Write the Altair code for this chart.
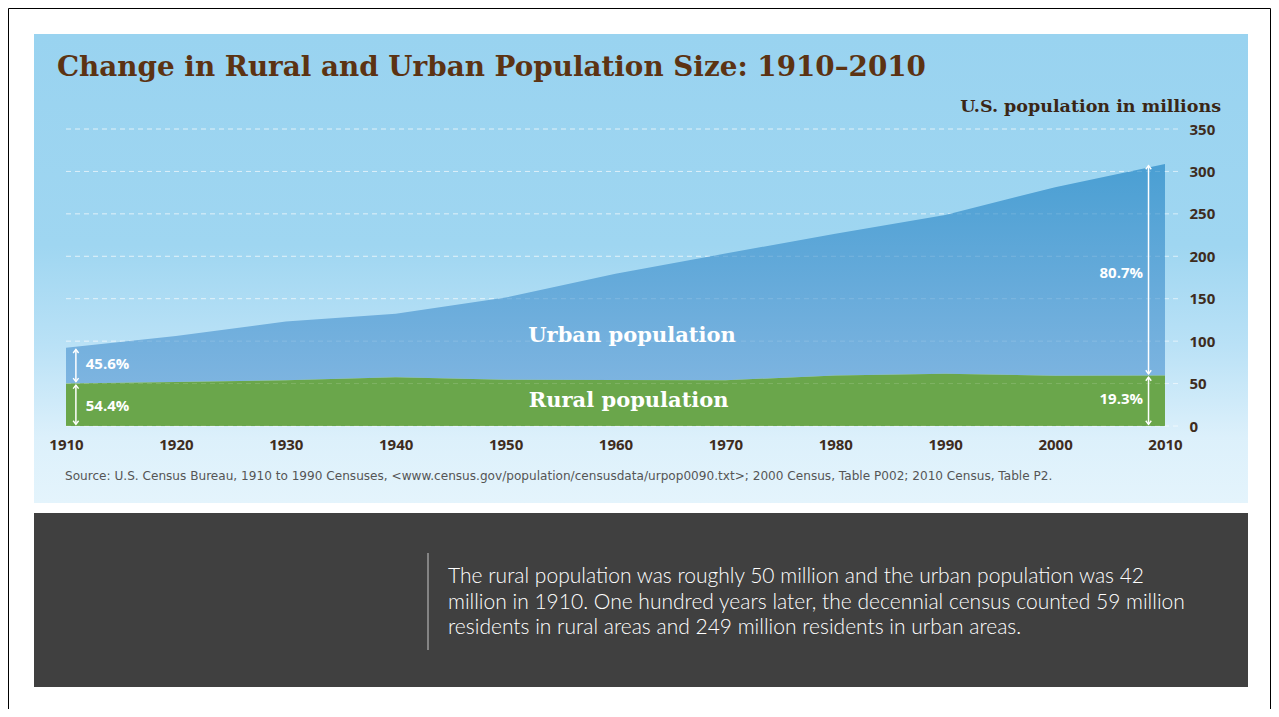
import altair as alt
import pandas as pd

# ---------------- data ----------------
years = [1910, 1920, 1930, 1940, 1950, 1960, 1970, 1980, 1990, 2000, 2010]
rural = [50.2, 51.8, 54.0, 57.5, 54.5, 54.1, 53.9, 59.5, 61.7, 59.1, 59.5]
urban = [42.0, 54.2, 69.2, 74.7, 96.8, 125.3, 149.3, 167.1, 187.1, 222.4, 249.3]

x_ticks = [1910, 1920, 1930, 1940, 1950, 1960, 1970, 1980, 1990, 2000, 2010]
y_ticks = [0, 50, 100, 150, 200, 250, 300, 350]

title_text = "Change in Rural and Urban Population Size: 1910\u20132010"
units_text = "U.S. population in millions"
source_text = ("Source: U.S. Census Bureau, 1910 to 1990 Censuses, "
               "<www.census.gov/population/censusdata/urpop0090.txt>; "
               "2000 Census, Table P002; 2010 Census, Table P2.")
note_lines = [
    "The rural population was roughly 50 million and the urban population was 42",
    "million in 1910. One hundred years later, the decennial census counted 59 million",
    "residents in rural areas and 249 million residents in urban areas.",
]

area_labels = ["Urban population", "Rural population"]
area_label_year = [1961.5, 1961.2]
area_label_val = [106, 29.5]

pct_left = ["45.6%", "54.4%"]
pct_left_year = [1911.8, 1911.8]
pct_left_val = [73.1, 23.6]
pct_right = ["80.7%", "19.3%"]
pct_right_year = [2008.0, 2008.0]
pct_right_val = [180.4, 31.8]

arrow_years = [1910.9, 2008.5]

# ---------------- tables ----------------
df = pd.DataFrame({"year": years, "rural": rural, "urban": urban})
df["total"] = df["rural"] + df["urban"]

arrow_rows = []
for ay, idx in zip(arrow_years, [0, len(years) - 1]):
    r = rural[idx]
    t = rural[idx] + urban[idx]
    arrow_rows.append({"year": ay, "lo": 0 + 2, "hi": r - 2})
    arrow_rows.append({"year": ay, "lo": r + 2, "hi": t - 2})
arrows = pd.DataFrame(arrow_rows)

one = pd.DataFrame({"k": [0]})
grid_df = pd.DataFrame({"v": y_ticks})

W, H = 1099, 297

xs = alt.Scale(domain=[1910, 2010], nice=False, zero=False)
ys = alt.Scale(domain=[0, 350], nice=False)

AX_COLOR = "#3e2c1e"

x_axis = alt.Axis(values=x_ticks, format="d", domain=False, ticks=False, grid=False,
                  labelFont="Open Sans", labelFontWeight="bold", labelFontSize=15,
                  labelColor=AX_COLOR, labelPadding=11, labelFlush=False, zindex=2)
y_axis = alt.Axis(orient="right", values=y_ticks, domain=False, ticks=False, grid=False,
                  labelFont="Open Sans", labelFontWeight="bold", labelFontSize=15,
                  labelColor=AX_COLOR, labelPadding=24, labelAlign="left", zindex=2)


def X(field):
    return alt.X(field, scale=xs, axis=x_axis, title=None)


def Y(field):
    return alt.Y(field, scale=ys, axis=y_axis, title=None)


# background sky
sky = alt.Chart(one).mark_rect(
    fill=alt.Gradient(
        gradient="linear",
        stops=[
            alt.GradientStop(color="#99d3f0", offset=0),
            alt.GradientStop(color="#9fd6f1", offset=0.45),
            alt.GradientStop(color="#b9e1f6", offset=0.66),
            alt.GradientStop(color="#dcf0fb", offset=0.86),
            alt.GradientStop(color="#e4f4fc", offset=1),
        ],
        x1=0, x2=0, y1=0, y2=1,
    )
).encode(x=alt.value(-32), x2=alt.value(1182), y=alt.value(-95), y2=alt.value(374))

box = alt.Chart(one).mark_rect(fill="#404040").encode(
    x=alt.value(-32), x2=alt.value(1182), y=alt.value(384), y2=alt.value(558)
)

border = alt.Chart(one).mark_rect(fill="transparent", stroke="#000000", strokeWidth=1).encode(
    x=alt.value(-57.5), x2=alt.value(1204.5), y=alt.value(-120.5), y2=alt.value(620)
)

vline = alt.Chart(one).mark_rule(color="#c8c8c8", strokeWidth=1).encode(
    x=alt.value(362), y=alt.value(424), y2=alt.value(521)
)

grid_back = alt.Chart(grid_df).mark_rule(
    color="#ffffff", opacity=0.6, strokeDash=[5, 4], strokeWidth=1
).encode(
    x=alt.value(0), x2=alt.value(W + 17),
    y=Y("v:Q"),
)

urban_area = alt.Chart(df).mark_area(
    fill=alt.Gradient(
        gradient="linear",
        stops=[
            alt.GradientStop(color="#4a9fd3", offset=0),
            alt.GradientStop(color="#7db4e0", offset=1),
        ],
        x1=0, x2=0, y1=0, y2=1,
    )
).encode(
    x=X("year:Q"),
    y=Y("total:Q"),
    y2="rural:Q",
)

rural_area = alt.Chart(df).mark_area(color="#6aa64b").encode(
    x=X("year:Q"),
    y=Y("rural:Q"),
    y2=alt.datum(0),
)

grid_front = alt.Chart(grid_df).mark_rule(
    color="#ffffff", opacity=0.15, strokeDash=[5, 4], strokeWidth=1
).encode(
    x=alt.value(0), x2=alt.value(W),
    y=Y("v:Q"),
)

# arrows
arrow_line = alt.Chart(arrows).mark_rule(color="#ffffff", strokeWidth=1.5).encode(
    x=X("year:Q"),
    y=Y("lo:Q"),
    y2="hi:Q",
)
up_head = alt.Chart(arrows).mark_point(
    shape="M-1,1.3L0,0L1,1.3", filled=False, stroke="#ffffff", strokeWidth=1.4, size=30, opacity=1
).encode(x=X("year:Q"), y=Y("hi:Q"))
down_head = alt.Chart(arrows).mark_point(
    shape="M-1,-1.3L0,0L1,-1.3", filled=False, stroke="#ffffff", strokeWidth=1.4, size=30, opacity=1
).encode(x=X("year:Q"), y=Y("lo:Q"))

area_lbl_df = pd.DataFrame({"t": area_labels, "year": area_label_year, "v": area_label_val})
area_lbl = alt.Chart(area_lbl_df).mark_text(
    font="DejaVu Serif", fontWeight="bold", fontSize=21, color="#ffffff", align="center", baseline="middle"
).encode(x=X("year:Q"), y=Y("v:Q"), text="t:N")

pl_df = pd.DataFrame({"t": pct_left, "year": pct_left_year, "v": pct_left_val})
pct_l = alt.Chart(pl_df).mark_text(
    font="Open Sans", fontWeight="bold", fontSize=15, color="#ffffff", align="left", baseline="middle"
).encode(x=X("year:Q"), y=Y("v:Q"), text="t:N")

pr_df = pd.DataFrame({"t": pct_right, "year": pct_right_year, "v": pct_right_val})
pct_r = alt.Chart(pr_df).mark_text(
    font="Open Sans", fontWeight="bold", fontSize=15, color="#ffffff", align="right", baseline="middle"
).encode(x=X("year:Q"), y=Y("v:Q"), text="t:N")

title = alt.Chart(one).mark_text(
    text=title_text, font="DejaVu Serif", fontWeight="bold", fontSize=27.8, color="#5c3313",
    align="left", baseline="middle"
).encode(x=alt.value(-9), y=alt.value(-61))

units = alt.Chart(one).mark_text(
    text=units_text, font="DejaVu Serif", fontWeight="bold", fontSize=17.5, color="#3a2616",
    align="right", baseline="middle"
).encode(x=alt.value(1155), y=alt.value(-22))

source = alt.Chart(one).mark_text(
    text=source_text, font="DejaVu Sans", fontSize=12.1, color="#555555",
    align="left", baseline="middle"
).encode(x=alt.value(-1), y=alt.value(347))

note = alt.Chart(one).mark_text(
    text=note_lines, font="Lato", fontWeight=300, fontSize=21, color="#ffffff", lineHeight=25.5,
    align="left", baseline="middle"
).encode(x=alt.value(382), y=alt.value(448))

chart = alt.layer(
    sky, box, border, vline, grid_back, urban_area, rural_area, grid_front,
    arrow_line, up_head, down_head, area_lbl, pct_l, pct_r,
    title, units, source, note,
).properties(
    width=W, height=H,
    autosize=alt.AutoSizeParams(type="none"),
    padding={"left": 58, "top": 121, "right": 106, "bottom": 283},
    background="#ffffff",
).configure_view(stroke="transparent")

chart.save("out.html", embed_options={"renderer": "svg", "actions": False})
